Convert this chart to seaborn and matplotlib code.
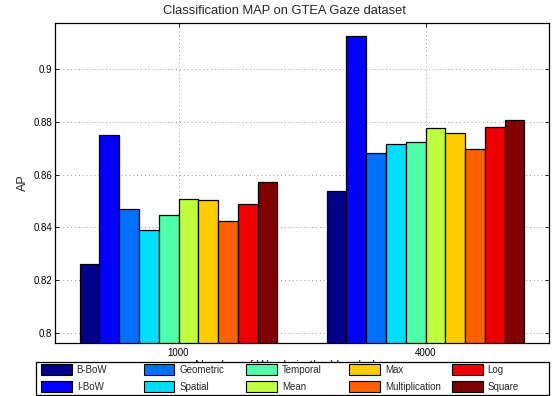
import matplotlib
matplotlib.use("Agg")
import matplotlib.pyplot as plt
import seaborn as sns
import pandas as pd
from matplotlib.patches import Rectangle

vocab = ["1000", "4000"]
methods = ["B-BoW", "I-BoW", "Geometric", "Spatial", "Temporal",
           "Mean", "Max", "Multiplication", "Log", "Square"]
ap_1000 = [0.8261, 0.8750, 0.8470, 0.8389, 0.8446, 0.8508, 0.8505, 0.8425, 0.8489, 0.8574]
ap_4000 = [0.8538, 0.9127, 0.8684, 0.8717, 0.8725, 0.8779, 0.8760, 0.8697, 0.8781, 0.8809]
colors = ["#000088", "#0000FF", "#0070FF", "#00DDFF", "#50FFAA",
          "#BFFF40", "#FFCC00", "#FF6000", "#EE0000", "#800000"]

rows = []
for v, vals in zip(vocab, [ap_1000, ap_4000]):
    for m, a in zip(methods, vals):
        rows.append({"vocab": v, "method": m, "AP": a})
df = pd.DataFrame(rows)

sns.set_style("white")
plt.rcParams['font.family'] = ['Liberation Sans', 'DejaVu Sans']

W, H = 557, 396
fig = plt.figure(figsize=(W/100, H/100), dpi=100)
ax = fig.add_axes([55/W, 1-342.7/H, (549-55)/W, (342.7-22.7)/H])

sns.barplot(data=df, x="vocab", y="AP", hue="method", hue_order=methods,
            order=vocab, palette=colors, ax=ax, width=0.8, gap=0,
            edgecolor="black", linewidth=0.9, legend=False, saturation=1)

ax.set_xlim(-0.5, 1.5)
ax.set_ylim(0.7962, 0.9177)
ax.set_yticks([0.8, 0.82, 0.84, 0.86, 0.88, 0.9])
ax.set_yticklabels(["0.8", "0.82", "0.84", "0.86", "0.88", "0.9"])
ax.set_xticks([0, 1])
ax.set_xticklabels(vocab)
ax.tick_params(axis="both", which="both", direction="in", length=3,
               labelsize=7, top=True, right=True, bottom=True, left=True,
               colors="black", width=0.6)
ax.tick_params(axis="x", pad=4)
ax.tick_params(axis="y", pad=2)
ax.grid(True, linestyle=(0, (1, 3)), color="#999999", linewidth=0.7)
ax.set_axisbelow(True)
for s in ax.spines.values():
    s.set_visible(True)
    s.set_color("black")
    s.set_linewidth(0.9)
ax.set_ylabel("AP", fontsize=9, labelpad=3)
ax.set_xlabel("Number of Words in the Vocabulary", fontsize=9)
ax.xaxis.set_label_coords((294 - 55) / 494, -17.5 / 320)
ax.set_title("Classification MAP on GTEA Gaze dataset", fontsize=9.3, pad=6,
             x=(284 - 55) / 494)

# Legend box drawn in figure pixel coordinates (y measured from top)
def fx(px):
    return px / W

def fy(py):
    return 1 - py / H

frame = Rectangle((fx(36), fy(394.5)), fx(549) - fx(36), fy(362) - fy(394.5),
                  transform=fig.transFigure, facecolor="white",
                  edgecolor="black", linewidth=0.9, zorder=10)
fig.add_artist(frame)
hw, hh = 30.7, 11.0
row_y = [369.3, 386.0]
for i, (m, c) in enumerate(zip(methods, colors)):
    col, row = divmod(i, 2)
    x0 = 41 + col * 102.7
    yc = row_y[row]
    fig.add_artist(Rectangle((fx(x0), fy(yc + hh/2)), fx(hw), hh/H,
                             transform=fig.transFigure, facecolor=c,
                             edgecolor="black", linewidth=0.8, zorder=11))
    fig.text(fx(x0 + hw + 5), fy(yc), m, fontsize=7, va="center_baseline",
             ha="left", zorder=12)

fig.savefig("out.png", dpi=100)
